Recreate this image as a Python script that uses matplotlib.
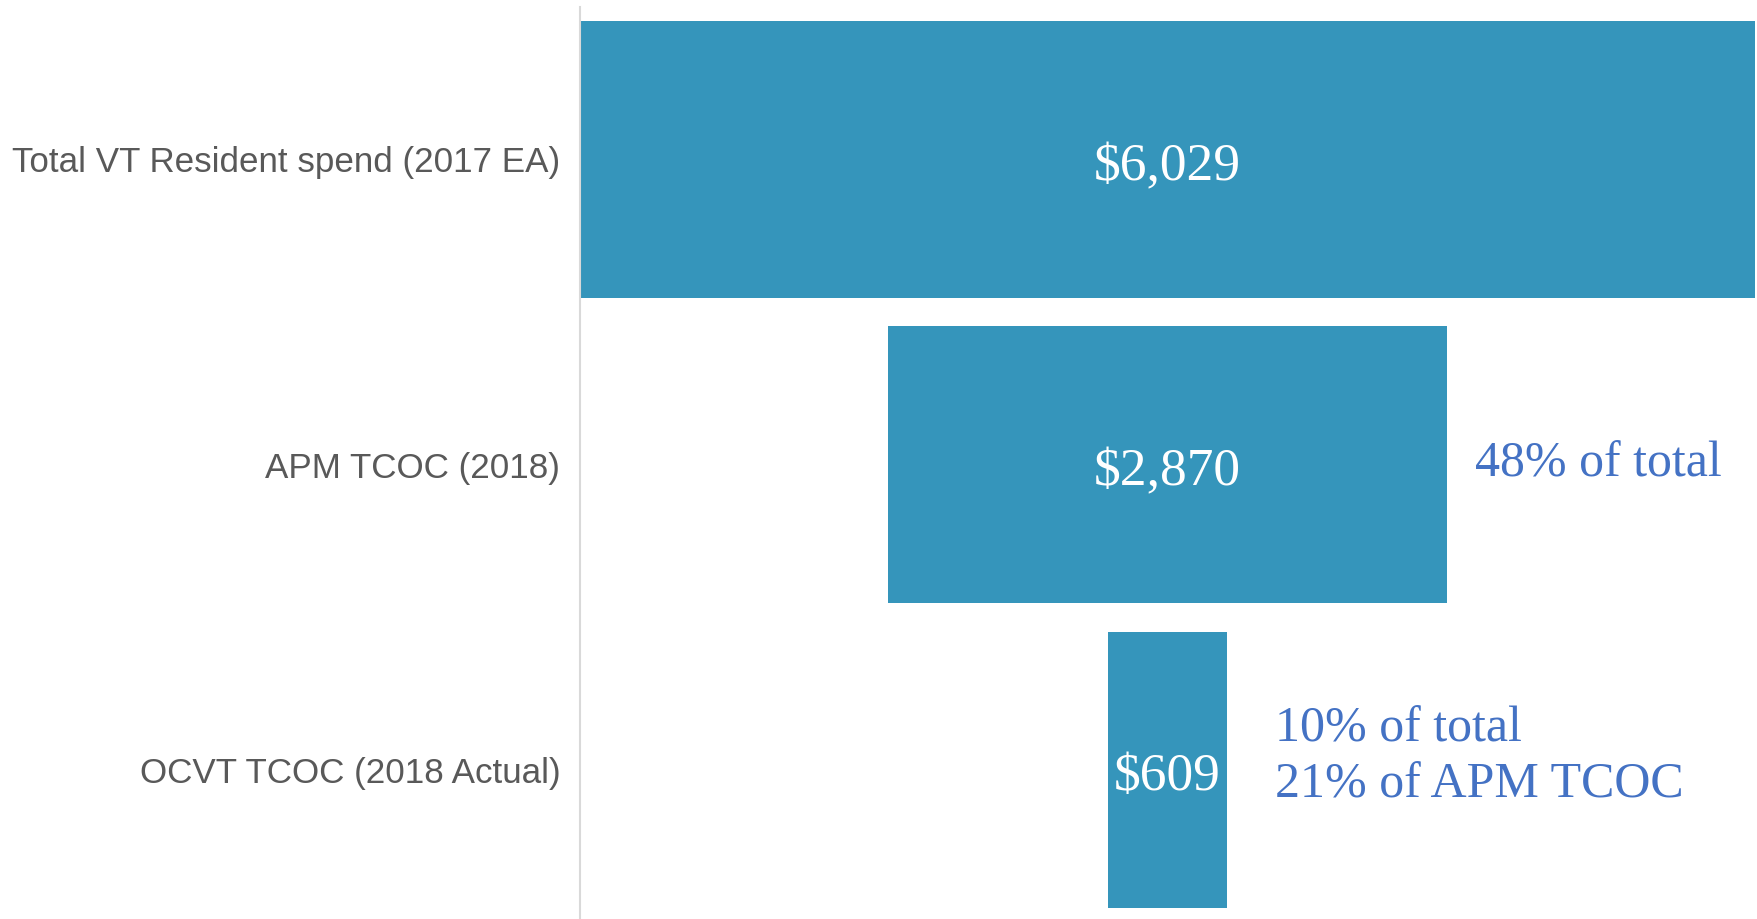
import matplotlib
matplotlib.use("Agg")
import matplotlib.pyplot as plt

categories = ["Total VT Resident spend (2017 EA)", "APM TCOC (2018)", "OCVT TCOC (2018 Actual)"]
values = [6029, 2870, 609]
value_labels = ["$6,029", "$2,870", "$609"]
notes = ["", "48% of total", "10% of total\n21% of APM TCOC"]

bar_color = "#3595BB"
note_color = "#4472C4"
label_color = "#595959"

fig = plt.figure(figsize=(17.57, 9.19), dpi=100)
ax = fig.add_axes([0.330, -0.0035, 0.6688, 0.9960])

# funnel: each bar centred on zero
lefts = [-v / 2 for v in values]
ax.barh(range(len(values)), values, left=lefts, height=0.905, color=bar_color)

ax.set_xlim(-values[0] / 2, values[0] / 2)
ax.set_ylim(len(values) - 0.5, -0.5)

for i, lab in enumerate(value_labels):
    ax.text(0, i + 0.025, lab, ha="center", va="center", color="white",
            fontsize=38.5, family="Liberation Serif")

note_offsets = [(0, 0), (20, 0), (35, 9)]
for i, note in enumerate(notes):
    if not note:
        continue
    ax.annotate(note, xy=(values[i] / 2, i), xytext=note_offsets[i],
                textcoords="offset points", ha="left", va="center",
                color=note_color, fontsize=36, family="Liberation Serif",
                linespacing=1.28)

ax.set_yticks(range(len(categories)))
ax.set_yticklabels(categories, fontsize=25.2, color=label_color, family="Liberation Sans")
ax.tick_params(axis="y", length=0, pad=14)
ax.set_xticks([])

for side in ["top", "right", "bottom"]:
    ax.spines[side].set_visible(False)
ax.spines["left"].set_color("#d9d9d9")
ax.spines["left"].set_linewidth(1.5)

fig.savefig("out.png", dpi=100)
